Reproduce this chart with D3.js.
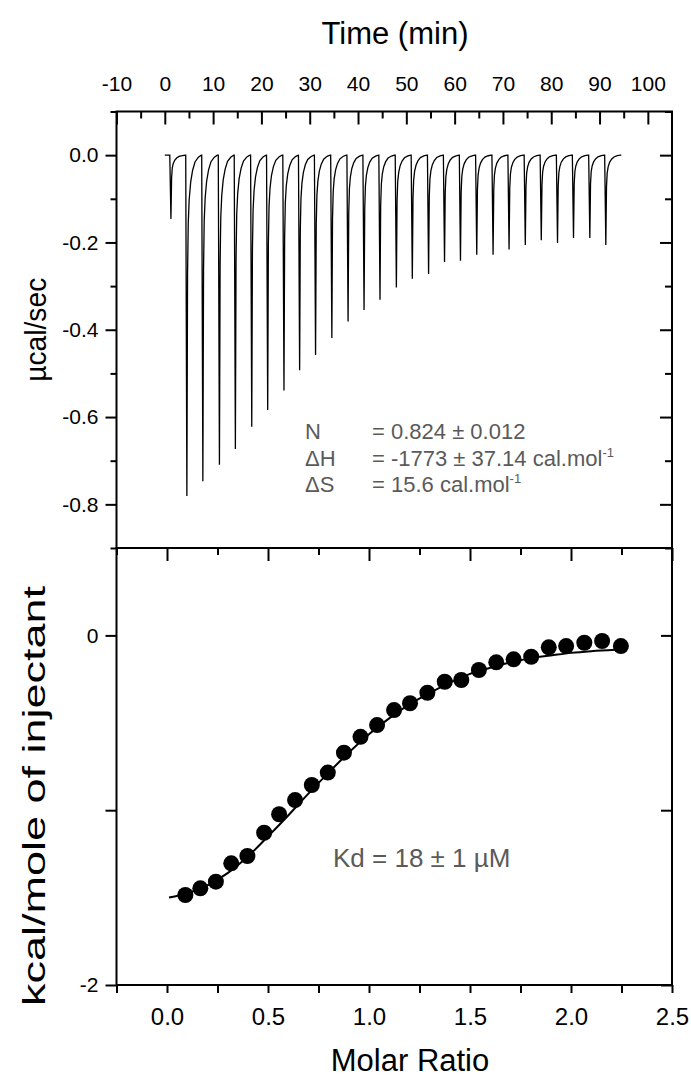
<!DOCTYPE html>
<html>
<head>
<meta charset="utf-8">
<script src="https://cdn.jsdelivr.net/npm/d3@7"></script>
<style>
  body { margin: 0; background: #fff; }
  svg { display: block; }
  text { font-family: "Liberation Sans", Arial, sans-serif; }
</style>
</head>
<body>
<div id="chart"></div>
<script>
// Raw thermogram: injection times (min) and peak heights (µcal/sec)
const injectionTimes = [1.15, 4.45, 7.76, 11.19, 14.49, 17.88, 21.18, 24.55, 27.79, 31.09,
  34.46, 37.82, 41.13, 44.43, 47.82, 51.12, 54.49, 57.79, 61.09, 64.46,
  67.84, 71.15, 74.51, 77.82, 81.18, 84.49, 87.87, 91.18];
const peakHeights = [-0.146, -0.781, -0.747, -0.709, -0.673, -0.622, -0.584, -0.539, -0.493, -0.458,
  -0.419, -0.381, -0.355, -0.331, -0.303, -0.283, -0.272, -0.245, -0.242, -0.228,
  -0.228, -0.216, -0.206, -0.195, -0.201, -0.190, -0.190, -0.206];
// shape of one peak: [minutes after injection, fraction of peak height]
const peakShape = [[-0.12, 0], [0.12, 1], [0.26, 0.35], [0.4, 0.2], [0.6, 0.13],
  [0.9, 0.08], [1.3, 0.045], [1.8, 0.02], [2.5, 0.006], [3.1, 0]];
const baselineStart = 0;
const baselineEnd = 94.5;

// Integrated heats
const molarRatio = [0.091, 0.165, 0.242, 0.318, 0.398, 0.481, 0.555, 0.634, 0.717, 0.796,
  0.876, 0.958, 1.040, 1.124, 1.203, 1.289, 1.375, 1.457, 1.544, 1.630,
  1.716, 1.803, 1.890, 1.976, 2.066, 2.154, 2.247];
const heatPerMole = [-1.485, -1.447, -1.409, -1.304, -1.262, -1.129, -1.023, -0.942, -0.856, -0.785,
  -0.671, -0.580, -0.513, -0.427, -0.388, -0.328, -0.265, -0.255, -0.198, -0.154,
  -0.137, -0.122, -0.068, -0.061, -0.042, -0.032, -0.061];

// Fitted curve
const fitRatio = [0.01, 0.1, 0.2, 0.3, 0.4, 0.5, 0.6, 0.7, 0.8, 0.9, 1.0, 1.1, 1.2,
  1.3, 1.4, 1.5, 1.6, 1.7, 1.8, 1.9, 2.0, 2.1, 2.22];
const fitHeat = [-1.50, -1.475, -1.43, -1.36, -1.265, -1.15, -1.03, -0.905, -0.785, -0.67, -0.565, -0.475, -0.395,
  -0.33, -0.27, -0.22, -0.185, -0.155, -0.13, -0.115, -0.10, -0.09, -0.082];

// Ticks
const timeTicks = [-10, 0, 10, 20, 30, 40, 50, 60, 70, 80, 90, 100];
const timeMinorTicks = [-5, 5, 15, 25, 35, 45, 55, 65, 75, 85, 95];
const powerTicks = [0, -0.2, -0.4, -0.6, -0.8];
const powerMinorTicks = [0.1, -0.1, -0.3, -0.5, -0.7, -0.9];
const ratioTicks = [0, 0.5, 1.0, 1.5, 2.0, 2.5];
const ratioMinorTicks = [-0.25, 0.25, 0.75, 1.25, 1.75, 2.25];
const heatTicks = [0, -2];
const heatMinorTicks = [-1];

const annotationRows = [
  { label: "N", value: "= 0.824 ± 0.012", unit: "" },
  { label: "ΔH", value: "= -1773 ± 37.14 cal.mol", unit: "-1" },
  { label: "ΔS", value: "= 15.6 cal.mol", unit: "-1" }
];
const kdText = "Kd = 18 ± 1 µM";

const width = 691, height = 1081;
const left = 116.5, right = 672;
const topY = 111.5, midY = 548, bottomY = 985;

const svg = d3.select("#chart").append("svg")
  .attr("width", width)
  .attr("height", height);

const xTime = d3.scaleLinear().domain([-10, 105]).range([left, right]);
const yPower = d3.scaleLinear().domain([-0.9, 0.1]).range([midY, topY]);
const xRatio = d3.scaleLinear().domain([-0.25, 2.5]).range([left, right]);
const yHeat = d3.scaleLinear().domain([-2, 0.5]).range([bottomY, midY]);

// build the thermogram trace from the injections
const trace = [[baselineStart, 0]];
injectionTimes.forEach((t, i) => {
  peakShape.forEach(p => trace.push([t + p[0], peakHeights[i] * p[1]]));
});
trace.push([baselineEnd, 0]);

svg.append("path")
  .datum(trace)
  .attr("fill", "none")
  .attr("stroke", "#000")
  .attr("stroke-width", 1.3)
  .attr("d", d3.line().x(d => xTime(d[0])).y(d => yPower(d[1])));

// fit line and points
svg.append("path")
  .datum(fitRatio.map((r, i) => [r, fitHeat[i]]))
  .attr("fill", "none")
  .attr("stroke", "#000")
  .attr("stroke-width", 2)
  .attr("d", d3.line().curve(d3.curveMonotoneX).x(d => xRatio(d[0])).y(d => yHeat(d[1])));

svg.append("g").selectAll("circle")
  .data(molarRatio.map((r, i) => [r, heatPerMole[i]]))
  .join("circle")
  .attr("cx", d => xRatio(d[0]))
  .attr("cy", d => yHeat(d[1]))
  .attr("r", 8)
  .attr("fill", "#000");

// axes
function styleAxis(g, fontSize) {
  g.select(".domain").remove();
  g.selectAll(".tick line").attr("stroke", "#000").attr("stroke-width", 2);
  g.selectAll(".tick text").attr("fill", "#000").style("font-size", fontSize + "px")
    .attr("font-family", "'Liberation Sans', Arial, sans-serif");
}
const fmt1 = d => d.toFixed(1);
const fmtInt = d => String(d);

// top panel
svg.append("g").attr("transform", `translate(0,${topY})`)
  .call(d3.axisTop(xTime).tickValues(timeMinorTicks).tickSize(-7).tickFormat(""))
  .call(g => styleAxis(g, 21));
svg.append("g").attr("transform", `translate(0,${topY})`)
  .call(d3.axisTop(xTime).tickValues(timeTicks).tickSize(-13).tickPadding(21).tickFormat(fmtInt))
  .call(g => styleAxis(g, 21));
svg.append("g").attr("transform", `translate(${left},0)`)
  .call(d3.axisLeft(yPower).tickValues(powerMinorTicks).tickSize(6).tickFormat(""))
  .call(g => styleAxis(g, 21));
svg.append("g").attr("transform", `translate(${left},0)`)
  .call(d3.axisLeft(yPower).tickValues(powerTicks).tickSize(11).tickPadding(7).tickFormat(fmt1))
  .call(g => styleAxis(g, 21));
svg.append("g").attr("transform", `translate(${right},0)`)
  .call(d3.axisRight(yPower).tickValues(powerMinorTicks).tickSize(-7).tickFormat(""))
  .call(g => styleAxis(g, 21));
svg.append("g").attr("transform", `translate(${right},0)`)
  .call(d3.axisRight(yPower).tickValues(powerTicks).tickSize(-12).tickFormat(""))
  .call(g => styleAxis(g, 21));

// bottom panel
svg.append("g").attr("transform", `translate(0,${midY})`)
  .call(d3.axisTop(xRatio).tickValues(ratioMinorTicks).tickSize(-7).tickFormat(""))
  .call(g => styleAxis(g, 21));
svg.append("g").attr("transform", `translate(0,${midY})`)
  .call(d3.axisTop(xRatio).tickValues(ratioTicks).tickSize(-13).tickFormat(""))
  .call(g => styleAxis(g, 21));
svg.append("g").attr("transform", `translate(0,${bottomY})`)
  .call(d3.axisBottom(xRatio).tickValues(ratioMinorTicks).tickSize(8).tickFormat(""))
  .call(g => styleAxis(g, 24));
svg.append("g").attr("transform", `translate(0,${bottomY})`)
  .call(d3.axisBottom(xRatio).tickValues(ratioTicks).tickSize(8).tickPadding(15).tickFormat(fmt1))
  .call(g => styleAxis(g, 24));
svg.append("g").attr("transform", `translate(${left},0)`)
  .call(d3.axisLeft(yHeat).tickValues(heatTicks).tickSize(11).tickPadding(7).tickFormat(fmtInt))
  .call(g => styleAxis(g, 21));
svg.append("g").attr("transform", `translate(${left},0)`)
  .call(d3.axisLeft(yHeat).tickValues(heatMinorTicks).tickSize(11).tickFormat(""))
  .call(g => styleAxis(g, 21));
svg.append("g").attr("transform", `translate(${right},0)`)
  .call(d3.axisRight(yHeat).tickValues(heatTicks.concat(heatMinorTicks)).tickSize(-11).tickFormat(""))
  .call(g => styleAxis(g, 21));

// frames
svg.append("rect").attr("x", left).attr("y", topY).attr("width", right - left).attr("height", midY - topY)
  .attr("fill", "none").attr("stroke", "#000").attr("stroke-width", 2);
svg.append("rect").attr("x", left).attr("y", midY).attr("width", right - left).attr("height", bottomY - midY)
  .attr("fill", "none").attr("stroke", "#000").attr("stroke-width", 2);

// titles
svg.append("text").attr("x", 395).attr("y", 44)
  .attr("text-anchor", "middle").style("font-size", "31px").text("Time (min)");
svg.append("text").attr("x", 410).attr("y", 1071)
  .attr("text-anchor", "middle").style("font-size", "31px").text("Molar Ratio");
svg.append("text").attr("transform", `translate(46,${(topY + midY) / 2}) rotate(-90)`)
  .attr("text-anchor", "middle").style("font-size", "29px")
  .attr("textLength", 104).attr("lengthAdjust", "spacingAndGlyphs")
  .text("µcal/sec");
svg.append("text").attr("transform", `translate(45,796) rotate(-90)`)
  .attr("text-anchor", "middle").style("font-size", "31px")
  .attr("textLength", 420).attr("lengthAdjust", "spacingAndGlyphs")
  .text("kcal/mole of injectant");

// fit results
const ann = svg.append("g").attr("fill", "#5a5a5a").style("font-size", "22px");
annotationRows.forEach((row, i) => {
  const yy = 439 + i * 26.5;
  ann.append("text").attr("x", 305).attr("y", yy).text(row.label);
  const t = ann.append("text").attr("x", 372).attr("y", yy).text(row.value);
  if (row.unit) {
    t.append("tspan").attr("dy", -9).style("font-size", "13px").text(row.unit);
  }
});
svg.append("text").attr("x", 333).attr("y", 867).attr("fill", "#5a5a5a")
  .style("font-size", "26px").text(kdText);
</script>
</body>
</html>
